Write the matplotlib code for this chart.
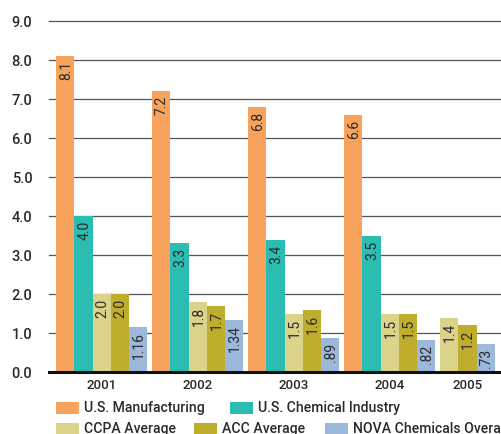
#!/usr/bin/env python3
import matplotlib
matplotlib.use("Agg")
import matplotlib.pyplot as plt
from matplotlib.patches import Rectangle

years = ["2001", "2002", "2003", "2004", "2005"]
series_names = ["U.S. Manufacturing", "U.S. Chemical Industry", "CCPA Average",
                "ACC Average", "NOVA Chemicals Overall"]
us_manufacturing = [8.1, 7.2, 6.8, 6.6, None]
us_chemical = [4.0, 3.3, 3.4, 3.5, None]
ccpa_avg = [2.0, 1.8, 1.5, 1.5, 1.4]
acc_avg = [2.0, 1.7, 1.6, 1.5, 1.2]
nova_overall = [1.16, 1.34, 0.89, 0.82, 0.73]
nova_labels = ["1.16", "1.34", ".89", ".82", ".73"]
y_ticks = [0, 1, 2, 3, 4, 5, 6, 7, 8, 9]

colors = ["#F7A35E", "#2BBDB1", "#DCD38B", "#BFAE2D", "#9CB8DB"]
TEXT = "#2a2a2a"

plt.rcParams["font.family"] = ["Roboto", "Liberation Sans", "DejaVu Sans"]

W, H = 502, 434
fig = plt.figure(figsize=(W / 100, H / 100), dpi=100)
# axes in pixel coordinates: left 49, right 502, top 21 (9.0), bottom 372 (0.0)
ax = fig.add_axes([49 / W, (H - 372.3) / H, (W - 49) / W, (372.3 - 21) / H])
ax.set_xlim(49, 502)
ax.set_ylim(0, 9)

bar_w = 18.3
first_left = 56
pitch = 96

all_series = [us_manufacturing, us_chemical, ccpa_avg, acc_avg, nova_overall]
centers = []
for gi, yr in enumerate(years):
    left = first_left + pitch * gi
    slot = 0
    lefts = []
    for si, vals in enumerate(all_series):
        v = vals[gi]
        if v is None:
            continue
        x0 = left + slot * bar_w
        ax.bar(x0, v, width=bar_w, align="edge", color=colors[si],
               zorder=2, linewidth=0)
        lab = nova_labels[gi] if si == 4 else f"{v:.1f}"
        ax.annotate(lab, (x0 + bar_w / 2, v), xytext=(0.5, -3.5),
                    textcoords="offset points", rotation=90,
                    ha="center", va="top", fontsize=10, color=TEXT, zorder=4)
        lefts.append(x0)
        slot += 1
    centers.append((lefts[0] + lefts[-1] + bar_w) / 2)

for t in y_ticks[1:]:
    ax.axhline(t, color="#555555", lw=0.9, zorder=1, clip_on=False)
ax.axhline(0, color="#111111", lw=2.2, zorder=3, clip_on=False)

for s in ax.spines.values():
    s.set_visible(False)
ax.set_yticks(y_ticks)
ax.set_yticklabels([f"{t:.1f}" for t in y_ticks], fontweight="medium")
ax.set_xticks(centers)
ax.set_xticklabels(years, fontweight="medium")
ax.tick_params(axis="y", length=0, pad=12, labelsize=10.5, labelcolor=TEXT)
ax.tick_params(axis="x", length=0, pad=5, labelsize=9.5, labelcolor=TEXT)

# legend, laid out by hand in pixel coordinates
legend_items = [
    (0, 56, 402), (1, 230, 402),
    (2, 56, 423), (3, 194, 423), (4, 325, 423),
]
for si, px, py in legend_items:
    fig.patches.append(Rectangle((px / W, (H - py - 12) / H), 23 / W, 12 / H,
                                 transform=fig.transFigure, color=colors[si],
                                 linewidth=0))
    fig.text((px + 28) / W, (H - py - 6) / H, series_names[si],
             ha="left", va="center", fontsize=10.1, fontweight="medium",
             color=TEXT)

fig.savefig("out.png", dpi=100)
